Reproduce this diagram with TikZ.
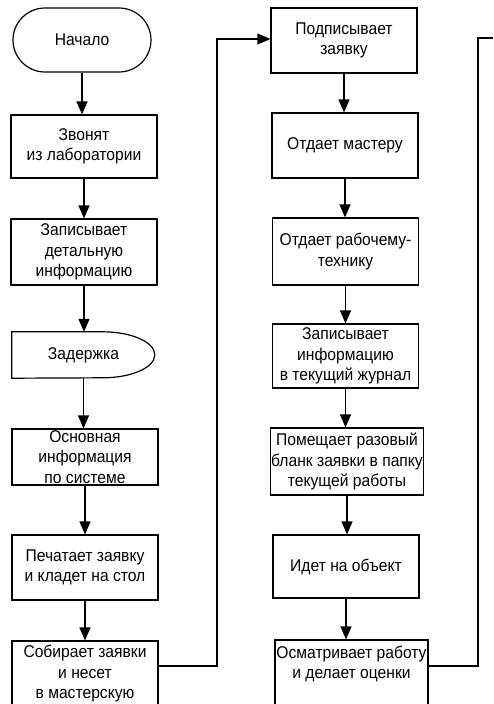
\documentclass[tikz,border=0pt]{standalone}
\usepackage{fontspec}
\setmainfont{Liberation Sans}[FakeStretch=0.92]
\usetikzlibrary{arrows.meta,shapes.misc}
\begin{document}
\begin{tikzpicture}[x=1pt,y=1pt,
  txt/.style={align=center, font=\fontsize{17}{20.5}\selectfont, inner sep=1pt},
  box/.style={txt, draw, line width=1.2pt},
  arr/.style={line width=1.2pt, -{Triangle[width=11pt,length=13pt]}},
  link/.style={line width=1.2pt}]
\useasboundingbox (0,0) rectangle (493,-704);
\clip (0,0) rectangle (493,-704);
\fill[white] (0,0) rectangle (493,-704);
% left column
\node[box, rounded rectangle, minimum width=140pt, minimum height=64pt] (start) at (82,-40) {Начало};
\node[box, minimum width=146pt, minimum height=63pt] (b1) at (84,-146.5) {Звонят\\из лаборатории};
\node[box, minimum width=146pt, minimum height=66pt] (b2) at (84,-252) {Записывает\\детальную\\информацию};
\node[txt, minimum width=143pt, minimum height=46pt] (d) at (83.5,-355) {Задержка};
\draw[line width=1.2pt] (d.north west) -- ++(91,0) arc[start angle=90,end angle=-90,x radius=52,y radius=23] -- (d.south west) -- cycle;
\node[box, minimum width=146pt, minimum height=56pt] (b4) at (85,-457) {Основная\\информация\\по системе};
\node[box, minimum width=146pt, minimum height=65pt] (b5) at (85,-567.5) {Печатает заявку\\и кладет на стол};
\node[box, minimum width=146pt, minimum height=66pt] (b6) at (85,-674) {Собирает заявки\\и несет\\в мастерскую};
% right column
\node[box, minimum width=146pt, minimum height=65pt] (r1) at (344,-40.5) {Подписывает\\заявку};
\node[box, minimum width=146pt, minimum height=65pt] (r2) at (345,-145.5) {Отдает мастеру};
\node[box, minimum width=146pt, minimum height=67pt] (r3) at (345.5,-251.5) {Отдает рабочему-\\технику};
\node[box, minimum width=146pt, minimum height=64pt] (r4) at (345.5,-356) {Записывает\\информацию\\в текущий журнал};
\node[box, minimum width=146pt, minimum height=67pt] (r5) at (347,-461.5) {Помещает разовый\\бланк заявки в папку\\текущей работы};
\node[box, minimum width=146pt, minimum height=63pt] (r6) at (346,-566.5) {Идет на объект};
\node[draw, line width=1.2pt, minimum width=153pt, minimum height=66pt] (r7) at (351.5,-673) {};
\node[txt] (r7t) at (351.5,-664) {Осматривает работу\\и делает оценки};
% arrows left
\draw[arr] (start.south) -- (start.south |- b1.north);
\draw[arr] (b1.south) -- (b1.south |- b2.north);
\draw[arr] (b2.south) -- (b2.south |- d.north);
\draw[arr] (d.south) -- (d.south |- b4.north);
\draw[arr] (b4.south) -- (b4.south |- b5.north);
\draw[arr] (b5.south) -- (b5.south |- b6.north);
% arrows right
\draw[arr] (r1.south) -- (r1.south |- r2.north);
\draw[arr] (r2.south) -- (r2.south |- r3.north);
\draw[arr] (r3.south) -- (r3.south |- r4.north);
\draw[arr] (r4.south) -- (r4.south |- r5.north);
\draw[arr] (r5.south) -- (r5.south |- r6.north);
\draw[arr] (r6.south) -- (r6.south |- r7.north);
% connectors
\coordinate (j1) at (217,-666);
\coordinate (j2) at (217,-39);
\draw[arr] (b6.east |- j1) -- (j1) -- (j2) -- (r1.west |- j2);
\coordinate (k1) at (478,-666);
\coordinate (k2) at (478,-38);
\coordinate (exit) at (493,-38);
\draw[link] (r7.east |- k1) -- (k1) -- (k2) -- (exit);
\end{tikzpicture}
\end{document}
